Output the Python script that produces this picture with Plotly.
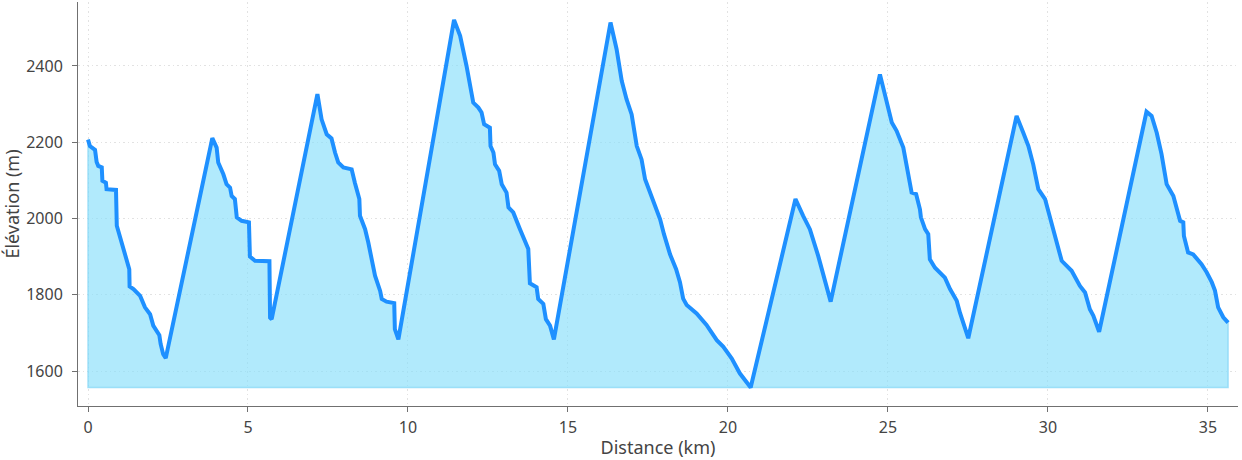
import plotly.graph_objects as go

distance_km = [
    0.0, 0.06, 0.22, 0.27, 0.32, 0.43, 0.45, 0.56, 0.58, 0.875, 0.9, 1.29, 1.30, 1.42, 1.63, 1.78, 1.94, 2.04, 2.23, 2.27, 2.35, 2.43,
    3.885, 4.02, 4.07, 4.23, 4.33, 4.44, 4.49, 4.59, 4.65, 4.80, 5.03, 5.06, 5.22, 5.67, 5.69, 5.74,
    7.17, 7.30, 7.46, 7.61, 7.72, 7.82, 7.98, 8.24, 8.34, 8.48, 8.50, 8.66, 8.76, 8.97, 9.13, 9.18, 9.33, 9.57, 9.59, 9.70,
    11.44, 11.63, 11.83, 11.99, 12.04, 12.20, 12.30, 12.38, 12.56, 12.58, 12.67, 12.72, 12.85, 12.93, 13.08, 13.14, 13.29, 13.50, 13.60, 13.76, 13.81, 14.02, 14.07, 14.23, 14.31, 14.44, 14.56,
    16.33, 16.52, 16.68, 16.83, 16.99, 17.15, 17.30, 17.41, 17.56, 17.72, 17.88, 18.00, 18.19, 18.38, 18.50, 18.60, 18.71, 19.02, 19.33, 19.65, 19.85, 20.12, 20.37, 20.71,
    22.11, 22.35, 22.56, 22.82, 23.08, 23.21,
    24.75, 24.96, 25.12, 25.27, 25.48, 25.74, 25.88, 26.00, 26.03, 26.16, 26.26, 26.31, 26.47, 26.78, 26.94, 27.15, 27.25, 27.51,
    29.02, 29.23, 29.39, 29.54, 29.70, 29.91, 30.17, 30.43, 30.74, 31.00, 31.16, 31.31, 31.42, 31.60,
    33.08, 33.24, 33.40, 33.55, 33.71, 33.92, 34.13, 34.23, 34.25, 34.38, 34.54, 34.80, 34.96, 35.12, 35.22, 35.32, 35.48, 35.63,
]
elevation_m = [
    2207, 2190, 2180, 2148, 2138, 2134, 2099, 2094, 2077, 2075, 1981, 1867, 1822, 1815, 1797, 1767, 1749, 1719, 1694, 1671, 1644, 1634,
    2211, 2186, 2147, 2116, 2090, 2081, 2059, 2051, 2003, 1994, 1990, 1900, 1889, 1888, 1740, 1736,
    2326, 2260, 2221, 2210, 2173, 2147, 2134, 2129, 2094, 2051, 2007, 1972, 1937, 1850, 1810, 1789, 1782, 1778, 1710, 1683,
    2521, 2479, 2400, 2321, 2304, 2291, 2278, 2247, 2238, 2190, 2173, 2142, 2125, 2090, 2068, 2029, 2016, 1972, 1954, 1920, 1830, 1820, 1789, 1776, 1736, 1719, 1683,
    2514, 2444, 2361, 2313, 2273, 2190, 2155, 2103, 2068, 2033, 1998, 1959, 1906, 1867, 1833, 1790, 1773, 1751, 1721, 1681, 1664, 1633, 1594, 1557,
    2051, 2007, 1972, 1902, 1828, 1782,
    2378, 2304, 2252, 2230, 2186, 2068, 2064, 2024, 2003, 1972, 1959, 1893, 1871, 1845, 1815, 1784, 1753, 1686,
    2269, 2225, 2190, 2142, 2077, 2051, 1972, 1889, 1863, 1823, 1806, 1762, 1745, 1703,
    2280, 2269, 2225, 2169, 2090, 2059, 1994, 1990, 1954, 1911, 1906, 1880, 1859, 1833, 1811, 1767, 1741, 1727,
]
x_ticks = [0, 5, 10, 15, 20, 25, 30, 35]
y_ticks = [1600, 1800, 2000, 2200, 2400]

base = min(elevation_m)
poly_x = distance_km + [distance_km[-1], distance_km[0], distance_km[0]]
poly_y = elevation_m + [base, base, elevation_m[0]]

fig = go.Figure()
fig.add_trace(go.Scatter(
    x=poly_x, y=poly_y, mode="lines", fill="toself",
    fillcolor="rgba(135,222,250,0.65)",
    line=dict(color="rgba(135,215,245,0.75)", width=1.5),
    hoverinfo="skip", showlegend=False,
))
fig.add_trace(go.Scatter(
    x=distance_km, y=elevation_m, mode="lines",
    line=dict(color="#1E90FF", width=4, shape="linear"),
    showlegend=False,
))

tick_font = dict(family="Noto Sans, Open Sans, sans-serif", size=16, color="#444444")
title_font = dict(family="Noto Sans, Open Sans, sans-serif", size=18, color="#444444")
fig.update_layout(
    width=1242, height=460,
    margin=dict(l=78, r=4, t=2, b=54, autoexpand=False),
    plot_bgcolor="white", paper_bgcolor="white",
    font=tick_font,
    xaxis=dict(
        range=[-0.3125, 35.94], tickvals=x_ticks, ticktext=[str(v) for v in x_ticks],
        showgrid=True, gridcolor="#e2e2e2", griddash="1.5px,3px", gridwidth=1,
        showline=True, linecolor="#707070", linewidth=1,
        ticks="outside", ticklen=5, tickcolor="#707070", ticklabelstandoff=2,
        zeroline=False, tickfont=tick_font, automargin=False,
        title=dict(text="Distance (km)", font=title_font, standoff=4),
    ),
    yaxis=dict(
        range=[1508.3, 2567.8], tickvals=y_ticks, ticktext=[str(v) for v in y_ticks],
        showgrid=True, gridcolor="#e2e2e2", griddash="1.5px,3px", gridwidth=1,
        showline=True, linecolor="#707070", linewidth=1,
        ticks="outside", ticklen=5, tickcolor="#707070", ticklabelstandoff=6,
        zeroline=False, tickfont=tick_font, automargin=False,
        title=dict(text="Élévation (m)", font=title_font, standoff=6),
    ),
)
fig.write_html(
    "out.html",
    config={"displayModeBar": False},
    post_script="document.body.style.margin='0';document.body.style.overflow='hidden';",
)
